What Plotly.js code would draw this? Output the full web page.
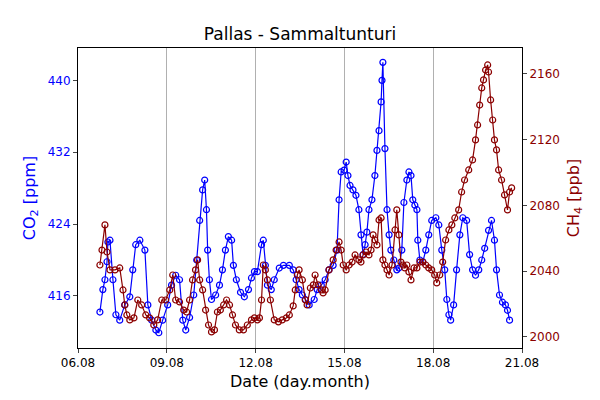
<!DOCTYPE html>
<html>
<head>
<meta charset="utf-8">
<script src="https://cdn.plot.ly/plotly-3.0.1.min.js"></script>
<style>body{margin:0;background:#fff}#plot{width:600px;height:400px}</style>
</head>
<body>
<div id="plot"></div>
<script>
// time in days of August
const co2Days = [6.74,6.84,6.91,6.98,7.01,7.08,7.18,7.28,7.41,7.58,7.75,7.85,7.95,8.09,8.26,8.36,8.49,8.63,8.73,8.86,
  9.03,9.16,9.30,9.43,9.54,9.64,9.77,9.91,10.01,10.11,10.21,10.28,10.34,10.38,10.44,10.51,10.65,10.78,10.88,10.98,
  11.08,11.19,11.25,11.35,11.49,11.62,11.76,11.86,11.96,12.06,12.20,12.26,12.33,12.40,12.53,12.63,12.80,12.94,13.14,13.27,
  13.37,13.47,13.58,13.68,13.81,13.98,14.08,14.22,14.35,14.48,14.62,14.75,14.82,14.89,14.99,15.06,15.12,15.19,15.29,15.39,
  15.49,15.56,15.63,15.70,15.76,15.83,15.93,16.03,16.10,16.17,16.24,16.27,16.30,16.37,16.44,16.51,16.57,16.67,16.77,16.84,
  16.94,17.01,17.11,17.18,17.25,17.31,17.38,17.45,17.48,17.55,17.65,17.75,17.85,17.95,18.09,18.19,18.29,18.39,18.46,18.53,
  18.59,18.69,18.79,18.90,19.00,19.13,19.23,19.33,19.43,19.54,19.64,19.74,19.87,19.97,20.07,20.14,20.24,20.34,20.44,20.51,20.58];
const co2 = [414.2,416.7,417.8,419.8,422.0,422.2,417.8,413.9,413.3,415.0,415.9,418.9,421.7,422.2,421.1,415.0,413.3,412.2,411.9,413.3,
  415.0,417.2,418.3,417.8,413.3,412.2,413.6,416.1,420.0,424.4,427.8,428.9,425.6,421.1,417.8,415.6,416.1,417.2,418.9,421.1,
  422.6,422.2,419.4,417.8,416.4,415.9,416.7,418.0,418.7,418.7,421.7,422.2,419.4,417.2,416.7,417.8,419.1,419.4,419.4,418.9,
  417.8,416.7,416.1,415.6,415.0,415.6,416.7,417.2,417.8,418.9,419.4,421.1,426.7,429.8,430.0,430.9,429.4,428.3,427.8,427.2,
  425.6,422.8,420.6,421.7,423.1,425.6,426.7,429.4,432.2,434.4,437.6,440.0,442.0,432.4,425.6,422.8,421.1,420.0,418.9,419.1,
  421.1,426.4,428.9,429.8,429.4,426.7,426.1,425.6,422.2,420.0,419.8,421.1,422.8,424.4,424.7,423.9,421.1,418.9,415.6,413.9,
  413.3,415.0,418.9,422.8,424.7,424.4,420.6,418.9,418.3,418.9,420.0,421.3,423.3,424.4,422.2,418.9,416.1,415.3,415.0,414.4,413.3];

const ch4Days = [6.74,6.81,6.91,6.98,7.08,7.25,7.41,7.52,7.58,7.65,7.75,7.89,8.02,8.15,8.29,8.42,8.56,8.69,8.83,8.96,
  9.10,9.20,9.30,9.43,9.57,9.67,9.77,9.87,9.97,10.04,10.11,10.21,10.31,10.41,10.51,10.61,10.71,10.81,10.92,11.02,
  11.12,11.22,11.32,11.45,11.59,11.72,11.86,11.96,12.06,12.13,12.20,12.26,12.33,12.40,12.50,12.63,12.77,12.90,13.04,13.14,
  13.27,13.34,13.41,13.47,13.58,13.68,13.74,13.85,13.95,14.01,14.11,14.22,14.28,14.35,14.48,14.62,14.72,14.82,14.89,14.96,
  15.06,15.16,15.26,15.36,15.49,15.56,15.63,15.73,15.83,15.90,15.97,16.03,16.10,16.17,16.24,16.30,16.37,16.44,16.51,16.61,
  16.71,16.77,16.84,16.91,16.98,17.04,17.11,17.18,17.25,17.35,17.45,17.55,17.65,17.75,17.85,17.95,18.05,18.12,18.22,18.32,
  18.42,18.53,18.63,18.73,18.86,18.96,19.06,19.20,19.33,19.43,19.50,19.57,19.64,19.70,19.77,19.84,19.87,19.94,20.01,20.07,
  20.14,20.21,20.31,20.41,20.51,20.58,20.65];
const ch4 = [2043.8,2052.9,2068.2,2051.7,2040.8,2040.8,2042.0,2028.6,2019.5,2013.4,2010.4,2011.6,2022.5,2019.5,2013.4,2011.6,2007.3,2010.4,2022.5,2022.5,
  2028.6,2037.7,2022.5,2021.3,2016.4,2015.2,2022.5,2034.7,2040.8,2046.9,2034.7,2028.6,2016.4,2007.3,2003.1,2004.3,2015.2,2016.4,2019.5,2022.5,
  2019.5,2013.4,2007.3,2004.3,2004.3,2007.3,2010.4,2011.6,2010.4,2011.6,2022.5,2043.8,2040.8,2034.7,2022.5,2010.4,2009.2,2010.4,2011.6,2013.4,
  2018.9,2028.6,2037.7,2040.8,2034.7,2022.5,2019.5,2029.8,2031.7,2037.7,2031.7,2028.6,2026.8,2028.6,2040.8,2046.9,2052.9,2057.8,2052.9,2043.8,
  2040.8,2043.8,2045.6,2049.9,2046.9,2045.6,2049.9,2051.7,2049.9,2052.9,2062.1,2059.0,2056.0,2071.2,2072.4,2046.9,2043.8,2040.8,2037.7,2043.8,
  2065.1,2077.3,2062.1,2045.6,2043.8,2042.0,2043.8,2039.6,2034.7,2042.0,2042.0,2045.6,2045.6,2043.8,2042.0,2040.8,2037.7,2032.9,2037.7,2045.6,
  2059.0,2065.1,2068.2,2072.4,2077.3,2088.2,2095.5,2101.6,2107.7,2119.9,2129.0,2141.1,2151.5,2156.4,2162.4,2165.5,2161.2,2144.2,2132.0,2119.9,
  2113.8,2101.6,2095.5,2086.4,2077.3,2088.2,2090.7];

const tickDays = [6, 9, 12, 15, 18, 21];
const tickLabels = ['06.08', '09.08', '12.08', '15.08', '18.08', '21.08'];

const FONT = 'DejaVu Sans';
const BLUE = '#0000ff';
const RED = '#8b0000';

const traces = [
  {
    x: co2Days, y: co2, mode: 'lines+markers', yaxis: 'y',
    line: { color: BLUE, width: 1.2 },
    marker: { symbol: 'circle-open', size: 6, color: BLUE, line: { width: 1.2 } },
    hoverinfo: 'x+y'
  },
  {
    x: ch4Days, y: ch4, mode: 'lines+markers', yaxis: 'y2',
    line: { color: RED, width: 1.2 },
    marker: { symbol: 'circle-open', size: 6, color: RED, line: { width: 1.2 } },
    hoverinfo: 'x+y'
  }
];

const layout = {
  width: 600, height: 400,
  margin: { l: 78, r: 78, t: 48, b: 52 },
  paper_bgcolor: '#fff', plot_bgcolor: '#fff',
  showlegend: false,
  font: { family: FONT, size: 12, color: '#000' },
  title: { text: 'Pallas - Sammaltunturi', font: { family: FONT, size: 17 }, x: 0.5, y: 0.915, yanchor: 'middle' },
  xaxis: {
    range: [6, 21], tickvals: tickDays, ticktext: tickLabels,
    showgrid: true, gridcolor: '#b0b0b0', gridwidth: 1,
    ticks: 'outside', ticklen: 4, showline: true, mirror: true, linecolor: '#000', linewidth: 1,
    zeroline: false, tickfont: { size: 12 },
    title: { text: 'Date (day.month)', font: { size: 16 }, standoff: 6 }
  },
  yaxis: {
    range: [410.2, 443.6], tickvals: [416, 424, 432, 440],
    showgrid: false, zeroline: false,
    ticks: 'outside', ticklen: 4, showline: true, linecolor: '#000', linewidth: 1,
    tickfont: { size: 12, color: BLUE },
    title: { text: 'CO<sub>2</sub> [ppm]', font: { size: 16, color: BLUE }, standoff: 8 }
  },
  yaxis2: {
    overlaying: 'y', side: 'right',
    range: [1993.3, 2175.8], tickvals: [2000, 2040, 2080, 2120, 2160],
    showgrid: false, zeroline: false,
    ticks: 'outside', ticklen: 4, showline: true, linecolor: '#000', linewidth: 1,
    tickfont: { size: 12, color: RED },
    title: { text: 'CH<sub>4</sub> [ppb]', font: { size: 16, color: RED }, standoff: 8 }
  }
};

Plotly.newPlot('plot', traces, layout, { displayModeBar: false, staticPlot: true });
</script>
</body>
</html>
